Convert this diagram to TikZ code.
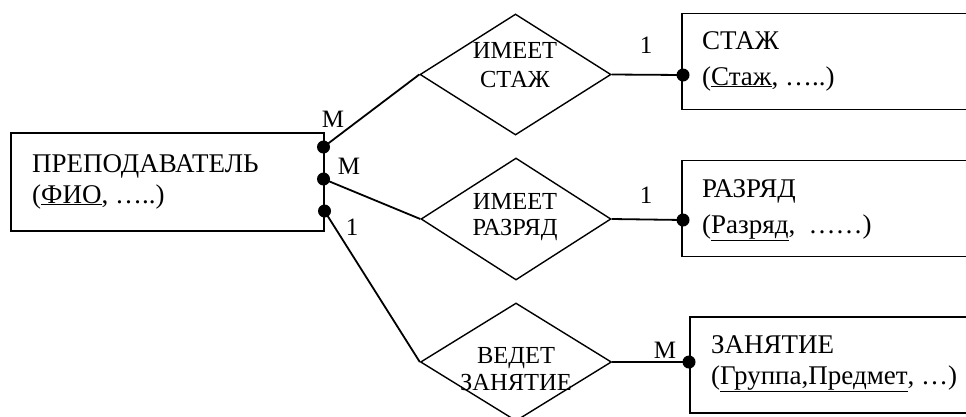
\documentclass[tikz,border=0pt]{standalone}
\usepackage{fontspec}
\setmainfont{Liberation Serif}
\usetikzlibrary{shapes.geometric}
\begin{document}
\begin{tikzpicture}[x=1pt,y=-1pt,
  ent/.style={draw,line width=1.8pt,rectangle,inner sep=0pt},
  rel/.style={draw,line width=1.4pt,shape=diamond,inner sep=0pt},
  dot/.style={circle,fill=black,inner sep=0pt,minimum size=13pt},
  conn/.style={line width=1.8pt},
  txt/.style={inner sep=0pt,font=\fontsize{27}{30}\selectfont},
  rtxt/.style={inner sep=0pt,font=\fontsize{24.5}{28}\selectfont},
  card/.style={inner sep=0pt,font=\fontsize{25}{28}\selectfont}]
\useasboundingbox (0,0) rectangle (966,416);
\clip (0,0) rectangle (966,416);
% entities
\node[ent,minimum width=313pt,minimum height=98pt] (prep) at (167.5,182) {};
\node[ent,minimum width=320pt,minimum height=96pt] (stazh) at (842,61.5) {};
\node[ent,minimum width=320pt,minimum height=96pt] (razr) at (842,208.5) {};
\node[ent,minimum width=400pt,minimum height=96pt] (zan) at (890,365) {};
% entity texts
\node[txt,anchor=base west] (t1) at (32,172) {ПРЕПОДАВАТЕЛЬ};
\node[txt,anchor=base west] (t2) at (32,203) {(\underline{ФИО}, …..)};
\node[txt,anchor=base west] (t3) at (702,49) {СТАЖ};
\node[txt,anchor=base west] (t4) at (702,85) {(\underline{Стаж}, …..)};
\node[txt,anchor=base west] (t5) at (702,197) {РАЗРЯД};
\node[txt,anchor=base west] (t6) at (702,233) {(\underline{Разряд},\ \ ……)};
\node[txt,anchor=base west] (t7) at (711,353) {ЗАНЯТИЕ};
\node[txt,anchor=base west] (t8) at (711,384) {(\underline{Группа,Предмет}, …)};
% relationships
\node[rel,minimum width=191pt,minimum height=121pt] (d1) at (515.5,74.5) {};
\node[rel,minimum width=190pt,minimum height=122pt] (d2) at (516,219) {};
\node[rel,minimum width=191pt,minimum height=118pt] (d3) at (516,362) {};
\node[rtxt,anchor=base] (r1a) at (515,58) {ИМЕЕТ};
\node[rtxt,anchor=base] (r1b) at (515,87) {СТАЖ};
\node[rtxt,anchor=base] (r2a) at (515,209) {ИМЕЕТ};
\node[rtxt,anchor=base] (r2b) at (515,235) {РАЗРЯД};
\node[rtxt,anchor=base] (r3a) at (516,363) {ВЕДЕТ};
\node[rtxt,anchor=base] (r3b) at (516,390) {ЗАНЯТИЕ};
% dots
\node[dot] (p1) at (323.5,147) {};
\node[dot] (p2) at (323.5,179) {};
\node[dot] (p3) at (324.5,211) {};
\node[dot] (s1) at (683,75) {};
\node[dot] (s2) at (683,220) {};
\node[dot] (s3) at (689,362) {};
% connectors
\draw[conn] (p1.center) -- (d1.west);
\draw[conn] (p2.center) -- (d2.west);
\draw[conn] (p3.center) -- (d3.west);
\draw[conn] (d1.east) -- (s1.center);
\draw[conn] (d2.east) -- (s2.center);
\draw[conn] (d3.east) -- (s3.center);
% cardinalities
\node[card] (c1) at (333,119) {M};
\node[card] (c2) at (349,166) {M};
\node[card] (c3) at (352,227) {1};
\node[card] (c4) at (646,45) {1};
\node[card] (c5) at (646,195) {1};
\node[card] (c6) at (665,350) {M};
\end{tikzpicture}
\end{document}
